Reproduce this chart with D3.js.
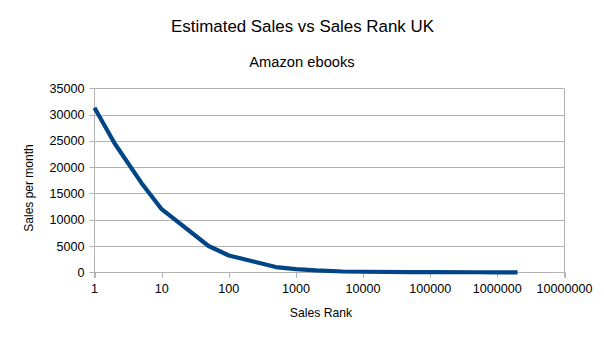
<!DOCTYPE html>
<html><head><meta charset="utf-8">
<script src="https://cdn.jsdelivr.net/npm/d3@7"></script>
<style>body{margin:0;background:#fff;}svg{display:block;font-family:"Liberation Sans",Arial,sans-serif;}</style>
</head><body>
<svg id="c" width="604" height="340"></svg>
<script>
const ranks = [1, 2, 5, 10, 50, 100, 500, 1000, 2000, 5000, 10000, 50000, 100000, 500000, 1000000, 2000000];
const sales = [31300, 24500, 17000, 12000, 5000, 3200, 1000, 600, 350, 150, 100, 40, 20, 5, 2, 1];
const xTicks = [1, 10, 100, 1000, 10000, 100000, 1000000, 10000000];
const yTicks = [0, 5000, 10000, 15000, 20000, 25000, 30000, 35000];
const title = "Estimated Sales vs Sales Rank UK";
const subtitle = "Amazon ebooks";
const xLabel = "Sales Rank";
const yLabel = "Sales per month";

const svg = d3.select("#c");
const L = 94.5, R = 564.5, T = 88.3, B = 272.3;
const x = d3.scaleLog().domain([1, 1e7]).range([L, R]);
const y = d3.scaleLinear().domain([0, 35000]).range([B, T]);
const grid = "#b3b3b3";
const font = 12.6;

// gridlines
svg.append("g").selectAll("line").data(yTicks).join("line")
  .attr("x1", L - 5).attr("x2", R)
  .attr("y1", d => Math.round(y(d)) + 0.5).attr("y2", d => Math.round(y(d)) + 0.5)
  .attr("stroke", grid).attr("stroke-width", 1);
// right border
svg.append("line").attr("x1", R).attr("x2", R).attr("y1", Math.round(T) + 0.5).attr("y2", B + 5.5)
  .attr("stroke", grid);
// y axis line
svg.append("line").attr("x1", L).attr("x2", L).attr("y1", Math.round(T) + 0.5).attr("y2", B + 5.5)
  .attr("stroke", grid);
// x ticks
svg.append("g").selectAll("line").data(xTicks).join("line")
  .attr("x1", d => Math.round(x(d)) + 0.5).attr("x2", d => Math.round(x(d)) + 0.5)
  .attr("y1", B).attr("y2", B + 5.5).attr("stroke", grid);

// y tick labels
svg.append("g").selectAll("text").data(yTicks).join("text")
  .attr("x", L - 10).attr("y", d => y(d) + 4.5)
  .attr("text-anchor", "end").attr("font-size", font).attr("fill", "#000")
  .text(d => d);
// x tick labels
svg.append("g").selectAll("text").data(xTicks).join("text")
  .attr("x", d => x(d)).attr("y", B + 20.5)
  .attr("text-anchor", "middle").attr("font-size", font).attr("fill", "#000")
  .text(d => d);

// line
const line = d3.line().x((d, i) => x(ranks[i])).y(d => y(d));
svg.append("path").datum(sales).attr("d", line)
  .attr("fill", "none").attr("stroke", "#004586").attr("stroke-width", 4.2)
  .attr("stroke-linejoin", "round");

// titles
svg.append("text").attr("x", 302.5).attr("y", 32).attr("text-anchor", "middle")
  .attr("font-size", 16.9).text(title);
svg.append("text").attr("x", 302).attr("y", 66.7).attr("text-anchor", "middle")
  .attr("font-size", 14.7).text(subtitle);
svg.append("text").attr("x", 321).attr("y", 317).attr("text-anchor", "middle")
  .attr("font-size", 12.2).text(xLabel);
svg.append("text").attr("transform", "translate(32.5,188) rotate(-90)").attr("text-anchor", "middle")
  .attr("font-size", 12).text(yLabel);
</script>
</body></html>
